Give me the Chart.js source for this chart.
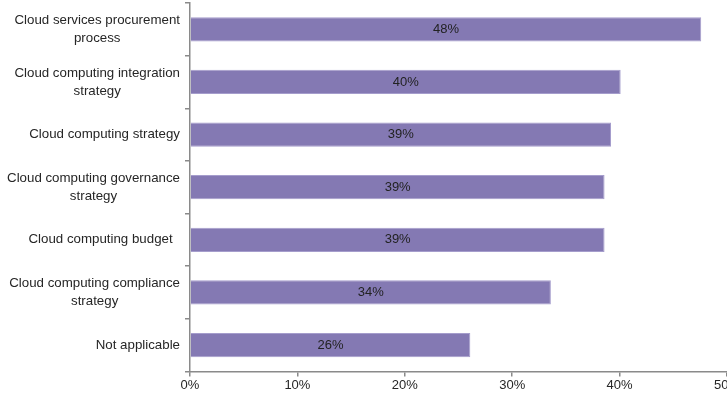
<!DOCTYPE html>
<html>
<head>
<meta charset="utf-8">
<script src="https://cdn.jsdelivr.net/npm/chart.js@4/dist/chart.umd.min.js"></script>
<style>
  html, body { margin: 0; padding: 0; background: #fff; }
  #wrap { width: 727px; height: 416px; }
</style>
</head>
<body>
<div id="wrap"><canvas id="chart"></canvas></div>
<script>
const categories = [
  ["Cloud services procurement", "process"],
  ["Cloud computing integration", "strategy"],
  ["Cloud computing strategy"],
  ["Cloud computing governance", "strategy"],
  ["Cloud computing budget  "],
  ["Cloud computing compliance", "strategy"],
  ["Not applicable"]
];
const values = [47.6, 40.1, 39.2, 38.6, 38.6, 33.6, 26.1];
const valueLabels = ["48%", "40%", "39%", "39%", "39%", "34%", "26%"];
const xTicks = [0, 10, 20, 30, 40, 50];

const FONT = "'Liberation Sans', Arial, sans-serif";

// draws the category names: each block centred, blocks right aligned to the axis
const categoryLabels = {
  id: "categoryLabels",
  afterDraw(chart) {
    const ctx = chart.ctx;
    const y = chart.scales.y;
    ctx.save();
    ctx.font = "13.3px " + FONT;
    ctx.fillStyle = "#262626";
    ctx.textAlign = "center";
    ctx.textBaseline = "middle";
    const right = y.right - 10;
    const lh = 18;
    categories.forEach((lines, i) => {
      const w = Math.max(...lines.map(l => ctx.measureText(l).width));
      const cx = right - w / 2;
      const cy = y.getPixelForValue(i);
      lines.forEach((l, j) => {
        ctx.fillText(l, cx, cy + (j - (lines.length - 1) / 2) * lh);
      });
    });
    ctx.restore();
  }
};

// value text in the middle of each bar
const barLabels = {
  id: "barLabels",
  afterDatasetsDraw(chart) {
    const ctx = chart.ctx;
    const meta = chart.getDatasetMeta(0);
    ctx.save();
    ctx.font = "13px " + FONT;
    ctx.fillStyle = "#222";
    ctx.textAlign = "center";
    ctx.textBaseline = "middle";
    meta.data.forEach((bar, i) => {
      ctx.fillText(valueLabels[i], (bar.x + bar.base) / 2, bar.y);
    });
    ctx.restore();
  }
};

new Chart(document.getElementById("chart"), {
  type: "bar",
  data: {
    labels: categories,
    datasets: [{
      data: values,
      backgroundColor: "#8479b3",
      borderColor: "#a59dcc",
      borderWidth: 1,
      categoryPercentage: 0.84,
      barPercentage: 0.55
    }]
  },
  options: {
    indexAxis: "y",
    responsive: true,
    maintainAspectRatio: false,
    animation: false,
    layout: { padding: { top: 3, bottom: 22, left: 0, right: 0 } },
    scales: {
      x: {
        min: 0,
        max: 50,
        afterBuildTicks: (scale) => { scale.ticks = xTicks.map(v => ({ value: v })); },
        afterFit: (scale) => { scale.paddingRight = 0; scale.paddingLeft = 0; },
        border: { color: "#8a8a8a", width: 1.5 },
        grid: { drawOnChartArea: false, tickLength: 5, color: "#8a8a8a", lineWidth: 1.5 },
        ticks: {
          callback: v => v + "%",
          color: "#262626",
          font: { size: 13, family: FONT },
          padding: 1,
          maxRotation: 0
        }
      },
      y: {
        afterFit: (scale) => { scale.width = 190; scale.paddingTop = 0; scale.paddingBottom = 0; },
        border: { color: "#8a8a8a", width: 1.5 },
        grid: { drawOnChartArea: false, tickLength: 5, color: "#8a8a8a", lineWidth: 1.5, offset: true },
        ticks: { color: "rgba(0,0,0,0)", font: { size: 12.5, family: FONT } }
      }
    },
    plugins: {
      legend: { display: false },
      tooltip: { enabled: false }
    }
  },
  plugins: [categoryLabels, barLabels]
});
</script>
</body>
</html>
